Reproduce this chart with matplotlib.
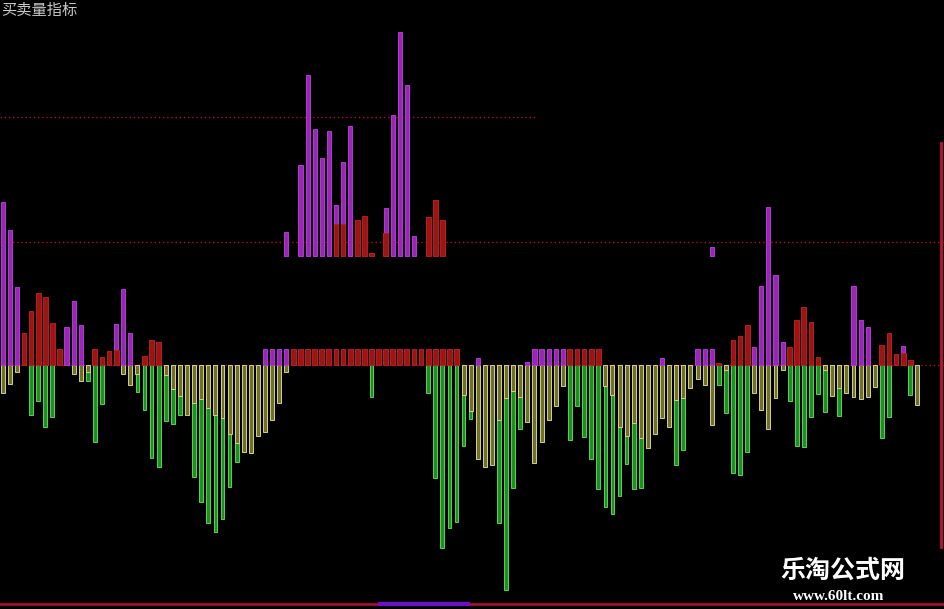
import numpy as np
import matplotlib
matplotlib.use('Agg')
import matplotlib.pyplot as plt

plt.rcParams['font.family'] = ['Noto Sans CJK SC', 'DejaVu Sans']

# --- DATA (one value per bar, 0 = no bar) ---
TITLE = '买卖量指标'

# buying volume, main panel (purple / red, upward)
purple = [163, 135, 78, 0, 0, 0, 0, 0, 0, 38,
          64, 40, 0, 0, 0, 0, 41, 76, 32, 0,
          0, 0, 0, 0, 0, 0, 0, 0, 0, 0,
          0, 0, 0, 0, 0, 0, 0, 16, 16, 16,
          16, 0, 0, 0, 0, 0, 0, 0, 0, 0,
          0, 0, 0, 0, 0, 0, 0, 0, 0, 0,
          0, 0, 0, 0, 0, 0, 0, 7, 0, 0,
          0, 0, 0, 0, 3, 16, 16, 16, 16, 16,
          0, 0, 0, 0, 0, 0, 0, 0, 0, 0,
          0, 0, 0, 7, 0, 0, 0, 0, 16, 16,
          16, 0, 0, 0, 0, 0, 18, 79, 158, 90,
          23, 0, 0, 0, 0, 0, 0, 0, 0, 0,
          79, 45, 38, 0, 0, 0, 0, 19, 0, 0]

red = [0, 0, 0, 32, 54, 72, 68, 42, 16, 0,
       0, 0, 0, 16, 8, 14, 15, 0, 0, 0,
       9, 25, 23, 0, 0, 0, 0, 0, 0, 0,
       0, 0, 0, 0, 0, 0, 0, 0, 0, 0,
       0, 16, 16, 16, 16, 16, 16, 16, 16, 16,
       16, 16, 16, 16, 16, 16, 16, 16, 16, 16,
       16, 16, 16, 16, 16, 0, 0, 0, 0, 0,
       0, 0, 0, 0, 0, 0, 0, 0, 0, 0,
       16, 16, 16, 16, 16, 0, 0, 0, 0, 0,
       0, 0, 0, 0, 0, 0, 0, 0, 0, 0,
       0, 2, 0, 25, 29, 40, 0, 0, 0, 0,
       0, 18, 45, 58, 43, 8, 0, 0, 0, 0,
       0, 0, 0, 0, 20, 32, 11, 12, 5, 0]

# selling volume (yellow / green, downward)
yellow = [28, 19, 7, 0, 0, 0, 0, 0, 0, 0,
          9, 16, 7, 0, 0, 0, 0, 9, 20, 9,
          0, 0, 0, 10, 24, 31, 50, 38, 34, 43,
          50, 53, 69, 78, 87, 88, 71, 67, 55, 38,
          7, 0, 0, 0, 0, 0, 0, 0, 0, 0,
          0, 0, 0, 0, 0, 0, 0, 0, 0, 0,
          0, 0, 0, 0, 0, 30, 46, 94, 102, 100,
          55, 33, 26, 32, 57, 98, 77, 55, 41, 21,
          0, 0, 0, 0, 0, 21, 30, 62, 71, 58,
          73, 83, 69, 53, 62, 35, 33, 23, 14, 20,
          60, 0, 5, 0, 0, 0, 28, 45, 64, 33,
          5, 0, 0, 0, 0, 0, 5, 31, 23, 28,
          32, 34, 32, 22, 0, 0, 0, 0, 0, 40]

green = [0, 0, 0, 0, 50, 36, 62, 52, 0, 0,
         0, 0, 16, 77, 39, 0, 0, 0, 0, 27,
         45, 93, 102, 56, 59, 50, 0, 112, 137, 158,
         167, 154, 122, 97, 0, 0, 0, 0, 0, 0,
         0, 0, 0, 0, 0, 0, 0, 0, 0, 0,
         0, 0, 32, 0, 0, 0, 0, 0, 0, 0,
         28, 113, 183, 163, 157, 81, 54, 0, 0, 0,
         158, 225, 123, 64, 0, 0, 0, 0, 0, 0,
         75, 41, 72, 94, 124, 142, 149, 131, 99, 124,
         123, 0, 0, 0, 0, 100, 85, 0, 0, 0,
         0, 20, 48, 108, 110, 87, 0, 0, 0, 0,
         0, 36, 81, 82, 52, 29, 47, 0, 51, 0,
         0, 0, 0, 0, 73, 52, 0, 0, 30, 0]

# upper floating panel (drawn from its own base)
purple_hi = [0] * 40 + [24, 0, 91, 181, 127, 98, 125, 51, 94, 130,
                        0, 0, 0, 0, 48, 141, 224, 171, 20, 0] + [0] * 40 + [9] + [0] * 29
red_hi = [0] * 47 + [32, 32, 0, 36, 40, 3, 0, 23, 0, 0, 0, 0, 0, 39, 56, 36] + [0] * 67

HI_BASE = 109
LEVELS = [248, 123, 0]

# --- STYLE ---
BG = '#000000'
PURPLE, PURPLE_EDGE = '#9a26b8', '#b03ccc'
RED, RED_EDGE = '#9c1414', '#b42020'
YELLOW, YELLOW_EDGE = '#70702a', '#d2d28e'
GREEN, GREEN_EDGE = '#1e901e', '#5cd05c'
DOT_RED = '#b01020'


def draw_bars(ax, x, vals, base, sign, color, edge, width):
    vals = np.asarray(vals, dtype=float)
    m = vals > 0
    ax.bar(x[m], sign * vals[m], bottom=base, width=width, color=color,
           edgecolor=edge, linewidth=0.7, zorder=3)


fig = plt.figure(figsize=(9.45, 6.09), dpi=100, facecolor=BG)
ax = fig.add_axes([0, 0, 1, 1], facecolor=BG)

n = len(purple)
x = np.arange(n)
step = 7.09
x0 = 2.7

# reference dotted lines
ax.axhline(LEVELS[0], xmin=0, xmax=535 / 945, color=DOT_RED, lw=1, ls=(0, (1, 2)), zorder=1)
ax.axhline(LEVELS[1], color=DOT_RED, lw=1, ls=(0, (1, 2)), zorder=1)
ax.axhline(LEVELS[2], color=DOT_RED, lw=1, ls=(0, (1, 2)), zorder=1)

# downward: green first, yellow on top
draw_bars(ax, x, green, 0, -1, GREEN, GREEN_EDGE, 0.52)
draw_bars(ax, x, yellow, 0, -1, YELLOW, YELLOW_EDGE, 0.56)
# upward: purple first, red on top
draw_bars(ax, x, purple, 0, 1, PURPLE, PURPLE_EDGE, 0.58)
draw_bars(ax, x, red, 0, 1, RED, RED_EDGE, 0.68)
draw_bars(ax, x, purple_hi, HI_BASE, 1, PURPLE, PURPLE_EDGE, 0.58)
draw_bars(ax, x, red_hi, HI_BASE, 1, RED, RED_EDGE, 0.68)

ax.set_xlim(-x0 / step, (945 - x0) / step)
ax.set_ylim(-244, 365)
ax.axis('off')

# frame lines at right and bottom
ax.axvline((941 - x0) / step, ymin=62 / 609, ymax=466 / 609, color='#c0103c', lw=2, zorder=4)
ax.axhline(-239, color='#a01030', lw=2, zorder=4)
ax.plot([(380 - x0) / step, (468 - x0) / step], [-239, -239], color='#6a10c8', lw=3, zorder=5)

fig.text(0.001, 0.997, TITLE, fontsize=11, color='#c8c8c8', ha='left', va='top')
fig.text(843 / 945, 1 - 571 / 609, '乐淘公式网', fontsize=18, fontweight='bold',
         color='white', ha='center', va='center')
fig.text(839 / 945, 1 - 597 / 609, 'www.60lt.com', family='Liberation Serif',
         fontweight='bold', fontsize=11, color='white', ha='center', va='center')

fig.savefig('out.png', dpi=100, facecolor=BG)
